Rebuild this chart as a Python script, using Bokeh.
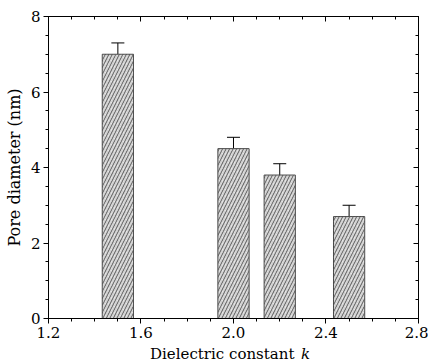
from bokeh.plotting import figure
from bokeh.layouts import column
from bokeh.models import (LinearAxis, SingleIntervalTicker, Whisker, ColumnDataSource,
                          Range1d, TeeHead, NumeralTickFormatter)
from bokeh.core.properties import value
from bokeh.embed import file_html
from bokeh.resources import INLINE

# data
k_values = [1.5, 2.0, 2.2, 2.5]
pore_diameter = [7.0, 4.5, 3.8, 2.7]
pore_error = [0.3, 0.3, 0.3, 0.3]
x_tick_step = 0.4
y_tick_step = 2
x_label = "Dielectric constant "
x_label_symbol = "k"
y_label = "Pore diameter (nm)"

FONT = "DejaVu Serif"

p = figure(width=428, height=344, output_backend="svg", toolbar_location=None,
           x_range=Range1d(1.2, 2.8001), y_range=Range1d(0, 8.0001),
           min_border_left=48, min_border_right=10, min_border_top=16,
           min_border_bottom=26, x_axis_location=None, y_axis_location=None)
p.grid.visible = False
p.outline_line_color = "black"
p.outline_line_width = 1
p.background_fill_color = "white"
p.border_fill_color = "white"

src = ColumnDataSource(dict(k=k_values, d=pore_diameter,
                            up=[v + e for v, e in zip(pore_diameter, pore_error)],
                            lo=pore_diameter))

p.vbar(x="k", top="d", width=0.135, source=src, fill_color="#e6e6e6",
       line_color="#444444", line_width=1,
       hatch_pattern="/", hatch_color="#111111", hatch_scale=7, hatch_weight=0.8,
       hatch_alpha=0.9)
p.vbar(x="k", top="d", width=0.135, source=src, fill_alpha=0,
       line_color=None, hatch_pattern="/", hatch_color="#999999", hatch_scale=3,
       hatch_weight=0.5, hatch_alpha=0.7)

w = Whisker(base="k", upper="up", lower="lo", source=src, line_color="black",
            line_width=1, lower_head=None,
            upper_head=TeeHead(size=13, line_color="black", line_width=1))
p.add_layout(w)

def style(ax, outward=True, labels=True):
    if outward:
        ax.major_tick_in, ax.major_tick_out = 0, 5
        ax.minor_tick_in, ax.minor_tick_out = 0, 3
    else:
        ax.major_tick_in, ax.major_tick_out = 5, 0
        ax.minor_tick_in, ax.minor_tick_out = 3, 0
    ax.minor_tick_line_color = "black"
    ax.major_tick_line_color = "black"
    ax.axis_line_color = "black"
    ax.major_label_text_font = FONT
    ax.major_label_text_font_size = "15px"
    ax.major_label_text_color = "black"
    ax.axis_label_text_font = FONT
    ax.axis_label_text_font_style = "normal"
    ax.axis_label_text_font_size = "16px"
    ax.axis_label_text_color = "black"
    if not labels:
        ax.major_label_text_alpha = 0
        ax.major_label_text_font_size = "1px"
        ax.major_label_standoff = 0

def xt():
    return SingleIntervalTicker(interval=x_tick_step, num_minor_ticks=4)

def yt():
    return SingleIntervalTicker(interval=y_tick_step, num_minor_ticks=4)

xb = LinearAxis(ticker=xt(), major_label_standoff=3,
                formatter=NumeralTickFormatter(format="0.0"))
style(xb, outward=True)
p.add_layout(xb, "below")
xa = LinearAxis(ticker=xt())
style(xa, outward=False, labels=False)
p.add_layout(xa, "above")
yl = LinearAxis(ticker=yt(), axis_label=y_label, major_label_standoff=3,
                axis_label_standoff=4)
style(yl, outward=True)
p.add_layout(yl, "left")
yr = LinearAxis(ticker=yt())
style(yr, outward=False, labels=False)
p.add_layout(yr, "right")

# x-axis title strip (regular text plus italic symbol)
t = figure(width=428, height=18, output_backend="svg", toolbar_location=None,
           x_range=Range1d(0, 428), y_range=Range1d(0, 18),
           min_border=0, x_axis_location=None, y_axis_location=None)
t.grid.visible = False
t.outline_line_color = None
t.background_fill_color = "white"
t.border_fill_color = "white"
t.text(x=[290], y=[9], text=[x_label], text_font=value(FONT), text_font_size="15px",
       text_align="right", text_baseline="middle", text_color="black")
t.text(x=[292], y=[9], text=[x_label_symbol], text_font=value(FONT),
       text_font_style="italic", text_font_size="15px",
       text_align="left", text_baseline="middle", text_color="black")

layout = column(p, t, spacing=0)
open("out.html", "w").write(file_html(layout, INLINE))
